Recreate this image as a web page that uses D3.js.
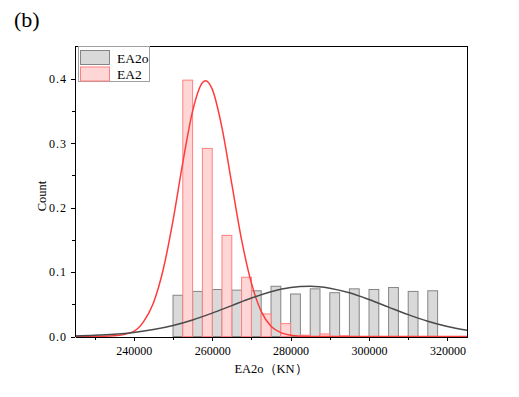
<!DOCTYPE html>
<html>
<head>
    <meta charset="utf-8">
    <title>EA2o histogram</title>
    <script src="https://d3js.org/d3.v7.min.js"></script>
    <style type="text/css">
        body{ margin:0; background:#fff; }
        .axis path,
        .axis line{
            fill:none;
            stroke:#000;
            shape-rendering:crispEdges;
        }
        .axis text{
            font-family:"Liberation Serif", serif;
            font-size:12px;
            fill:#000;
        }
        text{ font-family:"Liberation Serif", serif; }
    </style>
</head>
<body>
<script>
    // bins of 5000 KN, EA2o in the left half, EA2 in the right half
    var grayStarts = [250000, 255000, 260000, 265000, 270000, 275000, 280000,
                      285000, 290000, 295000, 300000, 305000, 310000, 315000];
    var grayValues = [0.064, 0.070, 0.073, 0.072, 0.071, 0.078, 0.066,
                      0.074, 0.068, 0.074, 0.073, 0.076, 0.070, 0.071];
    var pinkStarts = [252500, 257500, 262500, 267500, 272500, 277500, 282500, 287500, 292500];
    var pinkValues = [0.398, 0.292, 0.157, 0.092, 0.035, 0.020, 0.002, 0.004, 0.001];

    // fitted curves
    var redCurveX = [225000, 230000, 235000, 240000, 242500, 245000, 247500, 250000, 252500,
                     255000, 257500, 258300, 260000, 262500, 265000, 267500, 270000, 272500,
                     275000, 277500, 280000, 285000, 290000, 300000, 325000];
    var redCurveY = [0.000, 0.000, 0.001, 0.008, 0.023, 0.052, 0.104, 0.180, 0.270,
                     0.350, 0.394, 0.397, 0.384, 0.324, 0.237, 0.150, 0.083, 0.039,
                     0.016, 0.006, 0.002, 0.000, 0.000, 0.000, 0.000];
    var grayCurveX = [225000, 230000, 235000, 240000, 245000, 250000, 255000, 260000, 265000,
                      270000, 275000, 280000, 285000, 290000, 295000, 300000, 305000, 310000,
                      315000, 320000, 325000];
    var grayCurveY = [0.0009, 0.0018, 0.0034, 0.0062, 0.0107, 0.0171, 0.0257, 0.0363, 0.0480,
                      0.0597, 0.0695, 0.0760, 0.0780, 0.0750, 0.0678, 0.0574, 0.0456, 0.0340,
                      0.0238, 0.0156, 0.0096];

    var xTicks = [240000, 260000, 280000, 300000, 320000];
    var xMinor = [230000, 250000, 270000, 290000, 310000];
    var yTicks = [0, 0.1, 0.2, 0.3, 0.4];
    var yMinor = [0.05, 0.15, 0.25, 0.35];
    var seriesNames = ["EA2o", "EA2"];

    var w = 519;
    var h = 397;
    var padL = 75, padR = 467, padT = 46, padB = 336.5;
    var binHalf = 2500;

    var xScale = d3.scaleLinear()
                    .domain([225000, 325000])
                    .range([padL, padR]);
    var yScale = d3.scaleLinear()
                    .domain([0, 0.451])
                    .range([padB, padT]);

    var svg = d3.select("body")
                .append("svg")
                .attr("width", w)
                .attr("height", h);

    // gray bars
    svg.selectAll("rect.gray")
        .data(grayStarts)
        .enter()
        .append("rect")
        .attr("class", "gray")
        .attr("x", function(d){ return xScale(d); })
        .attr("width", function(d){ return xScale(d + binHalf) - xScale(d); })
        .attr("y", function(d, i){ return yScale(grayValues[i]); })
        .attr("height", function(d, i){ return yScale(0) - yScale(grayValues[i]); })
        .attr("fill", "#d9d9d9")
        .attr("stroke", "#858585")
        .attr("stroke-width", 1);

    // pink bars
    svg.selectAll("rect.pink")
        .data(pinkStarts)
        .enter()
        .append("rect")
        .attr("class", "pink")
        .attr("x", function(d){ return xScale(d); })
        .attr("width", function(d){ return xScale(d + binHalf) - xScale(d); })
        .attr("y", function(d, i){ return yScale(pinkValues[i]); })
        .attr("height", function(d, i){ return yScale(0) - yScale(pinkValues[i]); })
        .attr("fill", "#ffd6d6")
        .attr("stroke", "#ff8080")
        .attr("stroke-width", 1);

    var line = d3.line()
                .x(function(d){ return xScale(d[0]); })
                .y(function(d){ return yScale(d[1]); })
                .curve(d3.curveMonotoneX);

    svg.append("path")
        .attr("d", line(d3.zip(redCurveX, redCurveY)))
        .attr("fill", "none")
        .attr("stroke", "#ff3c3c")
        .attr("stroke-width", 1.5);
    svg.append("path")
        .attr("d", line(d3.zip(grayCurveX, grayCurveY)))
        .attr("fill", "none")
        .attr("stroke", "#4a4a4a")
        .attr("stroke-width", 1.5);

    // frame (top and right)
    svg.append("path")
        .attr("d", "M" + padL + "," + padT + "H" + padR + "V" + padB)
        .attr("fill", "none")
        .attr("stroke", "#000")
        .attr("shape-rendering", "crispEdges");

    // axes
    var xAxis = d3.axisBottom(xScale)
                .tickValues(xTicks)
                .tickSize(4)
                .tickSizeOuter(0)
                .tickPadding(6)
                .tickFormat(d3.format("d"));
    var xAxisMinor = d3.axisBottom(xScale)
                .tickValues(xMinor)
                .tickSize(3)
                .tickSizeOuter(0)
                .tickFormat("");
    var yAxis = d3.axisLeft(yScale)
                .tickValues(yTicks)
                .tickSize(4)
                .tickSizeOuter(0)
                .tickPadding(4)
                .tickFormat(d3.format(".1f"));
    var yAxisMinor = d3.axisLeft(yScale)
                .tickValues(yMinor)
                .tickSize(3)
                .tickSizeOuter(0)
                .tickFormat("");

    svg.append("g").attr("class", "axis")
        .attr("transform", "translate(0," + padB + ")")
        .call(xAxisMinor);
    svg.append("g").attr("class", "axis")
        .attr("transform", "translate(0," + padB + ")")
        .call(xAxis);
    svg.append("g").attr("class", "axis")
        .attr("transform", "translate(" + padL + ",0)")
        .call(yAxisMinor);
    svg.append("g").attr("class", "axis")
        .attr("transform", "translate(" + padL + ",0)")
        .call(yAxis)
        .selectAll("text")
        .attr("letter-spacing", "1px");

    // axis titles
    svg.append("text")
        .attr("x", 271)
        .attr("y", 373)
        .attr("text-anchor", "middle")
        .attr("font-size", "12.5px")
        .text("EA2o（KN）");
    svg.append("text")
        .attr("transform", "translate(46,196) rotate(-90)")
        .attr("text-anchor", "middle")
        .attr("font-size", "12.5px")
        .text("Count");

    // panel label
    svg.append("text")
        .attr("x", 14)
        .attr("y", 27)
        .attr("font-size", "22px")
        .text("(b)");

    // legend
    var legend = svg.append("g");
    legend.append("rect")
        .attr("x", 78.5).attr("y", 46.5)
        .attr("width", 71).attr("height", 35)
        .attr("fill", "#fff")
        .attr("stroke", "#a0a0a0");
    var legendFill = ["#d9d9d9", "#ffd6d6"];
    var legendStroke = ["#858585", "#ff8080"];
    legend.selectAll("rect.sw")
        .data(seriesNames)
        .enter()
        .append("rect")
        .attr("class", "sw")
        .attr("x", 80.5)
        .attr("y", function(d, i){ return 50.5 + i * 16.5; })
        .attr("width", 29)
        .attr("height", 14)
        .attr("fill", function(d, i){ return legendFill[i]; })
        .attr("stroke", function(d, i){ return legendStroke[i]; });
    legend.selectAll("text")
        .data(seriesNames)
        .enter()
        .append("text")
        .attr("x", 117)
        .attr("y", function(d, i){ return 62.5 + i * 16.5; })
        .attr("font-size", "13.5px")
        .text(function(d){ return d; });
</script>
</body>
</html>
